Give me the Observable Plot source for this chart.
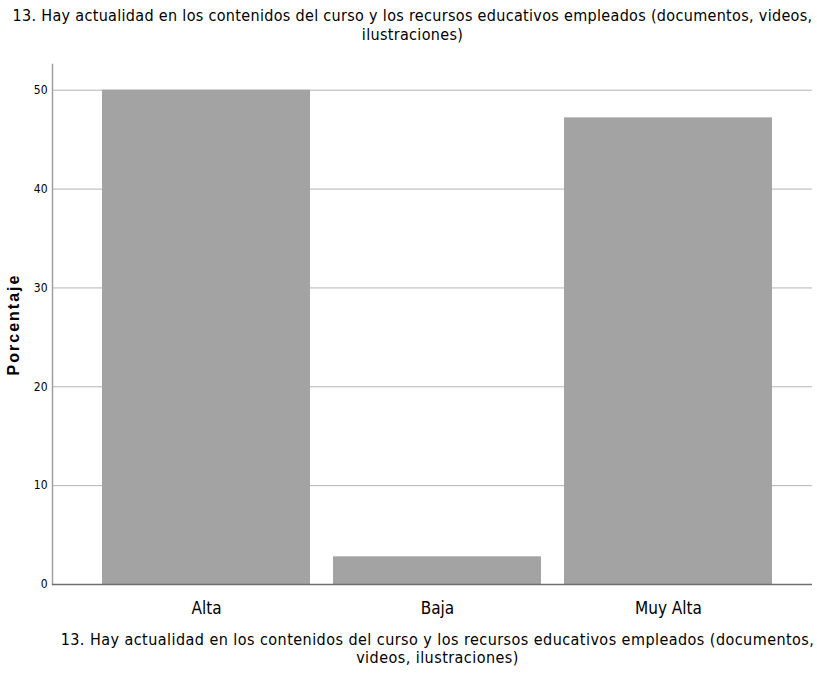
<!DOCTYPE html>
<html>
<head>
<meta charset="utf-8">
<script src="https://cdn.jsdelivr.net/npm/d3@7"></script>
<script src="https://cdn.jsdelivr.net/npm/@observablehq/plot@0.6"></script>
<style>
  html, body { margin: 0; padding: 0; background: #fff; }
  body { width: 817px; height: 689px; overflow: hidden; font-family: "Liberation Sans Narrow", "Arial Narrow", "DejaVu Sans Condensed", sans-serif; }
  .title { height: 50px; text-align: center; font-size: 16px; line-height: 19px; color: #000; padding-top: 6px; padding-left: 8px; box-sizing: border-box; letter-spacing: 0.32px; white-space: nowrap; }
  .caption { text-align: center; font-size: 16px; line-height: 18px; color: #000; padding-left: 58px; margin-top: 11px; letter-spacing: 0.45px; white-space: nowrap; }
  #chart svg { display: block; }
  #chart g[aria-label="y-axis label"] text { font-family: "Liberation Sans", Arial, sans-serif; font-weight: bold; font-size: 16px; letter-spacing: 2px; }
</style>
</head>
<body>
<div class="title">13. Hay actualidad en los contenidos del curso y los recursos educativos empleados (documentos, videos,<br>ilustraciones)</div>
<div id="chart"></div>
<div class="caption">13. Hay actualidad en los contenidos del curso y los recursos educativos empleados (documentos,<br>videos, ilustraciones)</div>
<script>
const categories = ["Alta", "Baja", "Muy Alta"];
const values = [50.0, 2.8, 47.2];
const yTicks = [0, 10, 20, 30, 40, 50];
const yLabel = "Porcentaje";

const data = categories.map((c, i) => ({category: c, value: values[i]}));

const chart = Plot.plot({
  width: 817,
  height: 570,
  marginLeft: 52,
  marginRight: 5,
  marginTop: 14,
  marginBottom: 36,
  style: {fontFamily: '"Liberation Sans Narrow", "Arial Narrow", "DejaVu Sans Condensed", sans-serif', color: "#000", background: "#fff"},
  x: {domain: categories, paddingInner: 0.1, paddingOuter: 0.195, align: 0.556, label: null, tickSize: 0, tickPadding: 16},
  y: {domain: [0, 52.6], ticks: yTicks, label: null, tickSize: 0, tickPadding: 5},
  marks: [
    Plot.gridY(yTicks, {stroke: "#b4b4b4", strokeOpacity: 1, strokeWidth: 1}),
    Plot.barY(data, {x: "category", y: "value", fill: "#a3a3a3", inset: 0}),
    Plot.frame({anchor: "left", stroke: "#a0a0a0", strokeWidth: 1.5}),
    Plot.ruleY([0], {stroke: "#6e6e6e", strokeWidth: 1.5}),
    Plot.axisX({tickSize: 0, tickPadding: 17, fontSize: 17, label: null}),
    Plot.axisY(yTicks, {tickSize: 0, tickPadding: 5, fontSize: 12, label: null}),
    Plot.axisY({ticks: [], label: yLabel, labelAnchor: "center", labelOffset: 45, labelArrow: "none", tickSize: 0})
  ]
});
document.getElementById("chart").appendChild(chart);
</script>
</body>
</html>
